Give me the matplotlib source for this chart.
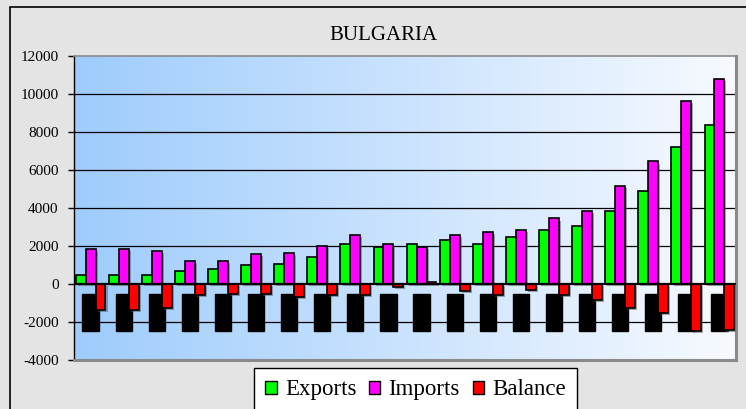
import matplotlib
matplotlib.use("Agg")
import matplotlib.pyplot as plt
import matplotlib.patheffects as pe
from matplotlib.patches import Rectangle, Patch
import numpy as np

years = [str(y) for y in range(1980, 2000)]
exports = [480, 480, 480, 700, 810, 1020, 1040, 1440, 2080, 1960,
           2080, 2290, 2080, 2500, 2830, 3030, 3860, 4890, 7200, 8350]
imports = [1850, 1850, 1750, 1230, 1230, 1560, 1650, 1980, 2600, 2080,
           1960, 2600, 2730, 2830, 3450, 3860, 5150, 6450, 9650, 10800]
balance = [-1350, -1350, -1250, -560, -520, -540, -660, -560, -560, -140,
           120, -380, -600, -310, -600, -830, -1260, -1530, -2480, -2400]

plt.rcParams['font.family'] = ['Liberation Serif', 'DejaVu Serif']
plt.rcParams['axes.unicode_minus'] = False

fig = plt.figure(figsize=(7.46, 4.09), dpi=100)
fig.patch.set_facecolor('#e4e4e4')
# outer chart frame
fig.patches.append(Rectangle((10 / 746, -0.01), 1.0, 1 - 7 / 409 + 0.01,
                             transform=fig.transFigure, fill=False,
                             edgecolor='black', linewidth=1.2))

ax = fig.add_axes([74 / 746, 49 / 409, 662 / 746, 304 / 409])
x = np.arange(len(years))
w = 0.3

# gradient background of the plot area
grad = np.linspace(0, 1, 256).reshape(1, -1)
left = np.array([0.62, 0.80, 0.99])
right = np.array([0.97, 0.98, 1.0])
img = left + (right - left) * grad[..., None]
ax.imshow(img, extent=[0, 1, 0, 1], transform=ax.transAxes,
          aspect='auto', zorder=0)

shadow = [pe.SimplePatchShadow(offset=(1.5, -1.5), shadow_rgbFace='#555555', alpha=0.5),
          pe.Normal()]
b1 = ax.bar(x - w, exports, w, color='#00ff00', edgecolor='black', linewidth=1.2, zorder=3)
b2 = ax.bar(x, imports, w, color='#ff00ff', edgecolor='black', linewidth=1.2, zorder=3)
b3 = ax.bar(x + w, balance, w, color='#ff0000', edgecolor='black', linewidth=1.2, zorder=3)
for bars in (b1, b2, b3):
    for p in bars:
        p.set_path_effects(shadow)

ax.set_xlim(-0.5, len(years) - 0.5)
ax.set_ylim(-4000, 12000)
ax.set_yticks(range(-4000, 12001, 2000))
for v in range(-2000, 12000, 2000):
    if v != 0:
        ax.axhline(v, color='black', linewidth=0.9, zorder=1)
ax.axhline(0, color='black', linewidth=1.6, zorder=4)

ax.tick_params(axis='y', direction='out', length=4, width=1, pad=7, labelsize=11)
ax.set_xticks(x)
ax.set_xticklabels(years, rotation=90, fontsize=10, color='black', va='top',
                   family='DejaVu Sans')
ax.tick_params(axis='x', length=0, pad=-47)
for lbl in ax.get_xticklabels():
    lbl.set_bbox(dict(boxstyle='square,pad=0.08', facecolor='black', edgecolor='black'))
    lbl.set_zorder(5)

ax.spines['left'].set_color('black')
ax.spines['left'].set_linewidth(1.0)
for s in ('top', 'right', 'bottom'):
    ax.spines[s].set_color('#8a8a8a')
ax.spines['top'].set_linewidth(1.2)
ax.spines['right'].set_linewidth(2.2)
ax.spines['bottom'].set_linewidth(2.2)

fig.text(383 / 746, 1 - 36 / 409, 'BULGARIA', ha='center', va='center', fontsize=15)

handles = [Patch(facecolor='#00ff00', edgecolor='black', label='Exports'),
           Patch(facecolor='#ff00ff', edgecolor='black', label='Imports'),
           Patch(facecolor='#ff0000', edgecolor='black', label='Balance')]
leg = fig.legend(handles=handles, loc='upper left', ncol=3,
                 bbox_to_anchor=(254 / 746, 1 - 368 / 409),
                 frameon=True, fancybox=False, edgecolor='black', framealpha=1,
                 fontsize=16.5, handlelength=0.5, handleheight=0.5,
                 handletextpad=0.35, columnspacing=0.55, borderpad=0.5,
                 borderaxespad=0)
leg.get_frame().set_linewidth(1.0)

fig.savefig('out.png', dpi=100, facecolor=fig.get_facecolor())
